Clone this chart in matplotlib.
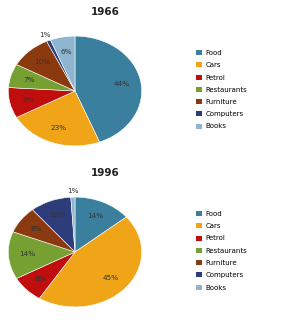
import numpy as np
import matplotlib.pyplot as plt
from matplotlib.patches import Patch

categories = ['Food', 'Cars', 'Petrol', 'Restaurants', 'Furniture', 'Computers', 'Books']
share_1966 = [44, 23, 9, 7, 10, 1, 6]
share_1996 = [14, 45, 8, 14, 8, 10, 1]
colors = ['#3a7f9e', '#f0a418', '#c00d0d', '#77a032', '#8b3a10', '#2d3d7c', '#8fb6d0']

W, H = 282, 325
fig = plt.figure(figsize=(W / 100, H / 100), dpi=100)


def pie_panel(values, year, top, legend_top):
    # pie is drawn a little squashed, like the tilted original
    ax = fig.add_axes([7 / W, 1 - (top + 112) / H, 136 / W, 112 / H])
    ax.pie(values, colors=colors, startangle=90, counterclock=False,
           wedgeprops=dict(edgecolor='white', linewidth=0.4))
    ax.set_aspect('auto')
    ax.set_xlim(-1.02, 1.02)
    ax.set_ylim(-1.02, 1.02)

    # percent labels
    ang = 90.0
    for v in values:
        mid = np.deg2rad(ang - v * 3.6 / 2)
        ang -= v * 3.6
        r = 0.72 if v > 2 else 1.12
        ax.text(r * np.cos(mid), r * np.sin(mid), f'{v}%', ha='center', va='center',
                fontsize=5.2, color='#333333')

    fig.text(105 / W, 1 - (top - 23) / H, year, ha='center', va='center',
             fontsize=7.5, fontweight='bold', color='#222222')

    handles = [Patch(facecolor=c, edgecolor='none') for c in colors]
    fig.legend(handles, categories, loc='upper left',
               bbox_to_anchor=(196 / W, 1 - legend_top / H), frameon=False,
               fontsize=5, handlelength=0.9, handleheight=0.7, handletextpad=0.5,
               labelspacing=0.9, borderaxespad=0, borderpad=0)


pie_panel(share_1966, '1966', 35, 50)
pie_panel(share_1996, '1996', 196, 211)

fig.savefig('out.png', dpi=100)
